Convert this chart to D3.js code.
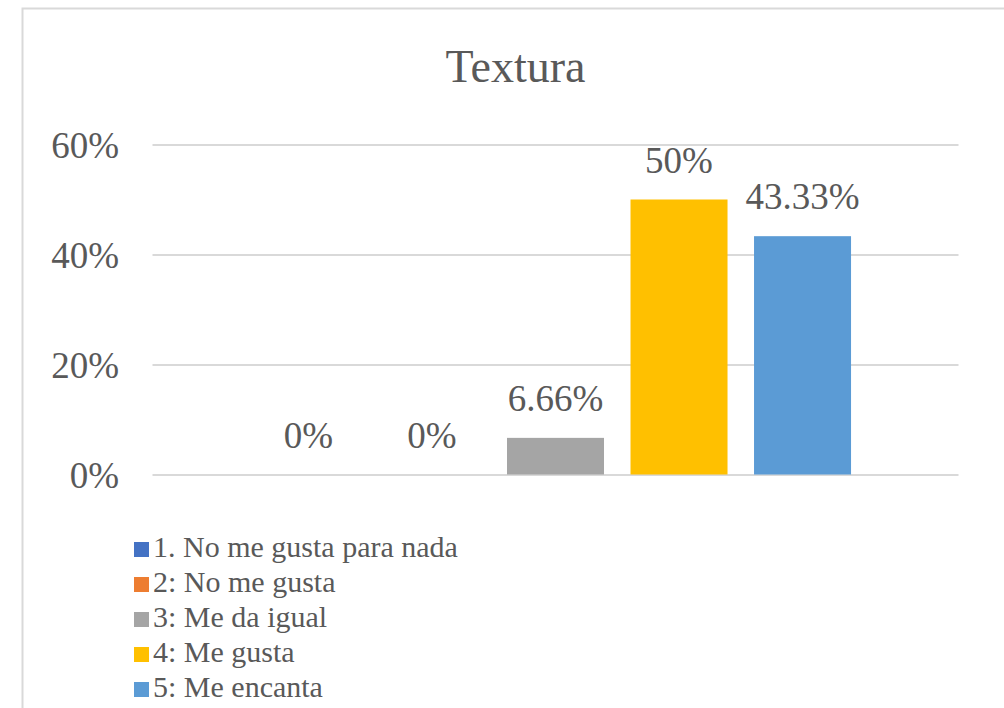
<!DOCTYPE html>
<html>
<head>
<meta charset="utf-8">
<script src="https://cdn.jsdelivr.net/npm/d3@7"></script>
<style>
  html, body { margin: 0; padding: 0; background: #fff; }
  svg { display: block; }
  text { font-family: "Liberation Serif", "Times New Roman", serif; fill: #595959; }
</style>
</head>
<body>
<div id="chart"></div>
<script>
const title = "Textura";
const categories = ["1. No me gusta para nada", "2: No me gusta", "3: Me da igual", "4: Me gusta", "5: Me encanta"];
const values = [0, 0, 0.0666, 0.50, 0.4333];
const valueLabels = ["0%", "0%", "6.66%", "50%", "43.33%"];
const colors = ["#4472C4", "#ED7D31", "#A5A5A5", "#FFC000", "#5B9BD5"];
const yTicks = [0, 0.2, 0.4, 0.6];

const W = 1004, H = 708;
const plot = { left: 152.5, right: 958.5, top: 144.5, bottom: 474.5 };

const svg = d3.select("#chart").append("svg").attr("width", W).attr("height", H);
svg.append("rect").attr("width", W).attr("height", H).attr("fill", "#fff");

// chart border (only top and left visible in the crop)
svg.append("rect")
  .attr("x", 22.5).attr("y", 8.5).attr("width", W + 20).attr("height", H + 20)
  .attr("fill", "none").attr("stroke", "#d9d9d9").attr("stroke-width", 2);

// title
svg.append("text")
  .attr("x", 515.5).attr("y", 82)
  .attr("text-anchor", "middle")
  .style("font-size", "46px")
  .text(title);

const y = d3.scaleLinear().domain([0, 0.6]).range([plot.bottom, plot.top]);
const x = d3.scaleBand().domain(categories)
  .range([plot.left, plot.right])
  .paddingInner(0.2146).paddingOuter(0.87);

// y axis with gridlines
const yAxis = d3.axisLeft(y)
  .tickValues(yTicks)
  .tickFormat(d3.format(".0%"))
  .tickSizeInner(-(plot.right - plot.left))
  .tickSizeOuter(0)
  .tickPadding(33.5);

const gy = svg.append("g").attr("transform", `translate(${plot.left},0)`).call(yAxis);
gy.select(".domain").remove();
gy.selectAll(".tick line").attr("stroke", "#d9d9d9").attr("stroke-width", 2);
gy.selectAll(".tick text")
  .attr("fill", "#595959")
  .attr("dy", null)
  .attr("y", 13)
  .style("font-family", '"Liberation Serif", "Times New Roman", serif')
  .style("font-size", "37px");

// bars
svg.append("g").selectAll("rect")
  .data(categories)
  .join("rect")
  .attr("x", d => x(d))
  .attr("y", (d, i) => y(values[i]))
  .attr("width", x.bandwidth())
  .attr("height", (d, i) => y(0) - y(values[i]))
  .attr("fill", (d, i) => colors[i]);

// data labels
svg.append("g").selectAll("text")
  .data(categories)
  .join("text")
  .attr("x", d => x(d) + x.bandwidth() / 2)
  .attr("y", (d, i) => y(values[i]) - 27)
  .attr("text-anchor", "middle")
  .style("font-size", "37px")
  .text((d, i) => valueLabels[i]);

// legend
const lg = svg.append("g");
categories.forEach((c, i) => {
  const base = 557 + i * 35;
  lg.append("rect")
    .attr("x", 134).attr("y", base - 15)
    .attr("width", 15).attr("height", 15)
    .attr("fill", colors[i]);
  lg.append("text")
    .attr("x", 153).attr("y", base)
    .style("font-size", "30px")
    .text(c);
});
</script>
</body>
</html>
